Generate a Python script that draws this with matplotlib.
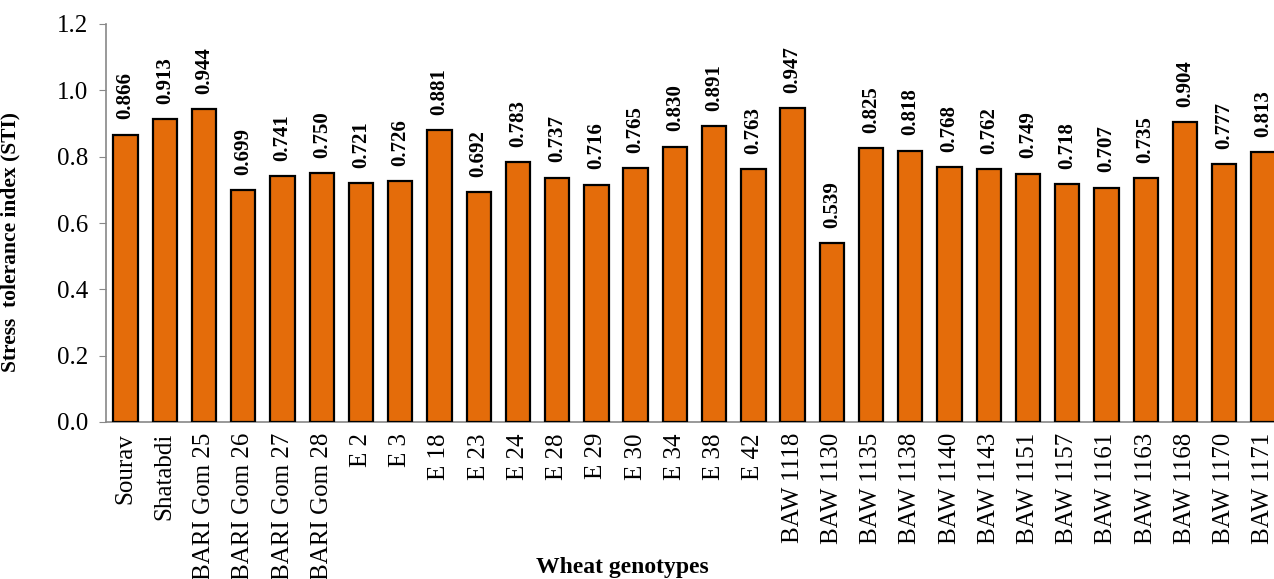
import matplotlib

matplotlib.use("Agg")
import matplotlib.pyplot as plt

genotypes = [
    "Sourav", "Shatabdi", "BARI Gom 25", "BARI Gom 26", "BARI Gom 27", "BARI Gom 28",
    "E 2", "E 3", "E 18", "E 23", "E 24", "E 28", "E 29", "E 30", "E 34", "E 38", "E 42",
    "BAW 1118", "BAW 1130", "BAW 1135", "BAW 1138", "BAW 1140", "BAW 1143", "BAW 1151",
    "BAW 1157", "BAW 1161", "BAW 1163", "BAW 1168", "BAW 1170", "BAW 1171",
]
sti = [
    0.866, 0.913, 0.944, 0.699, 0.741, 0.750,
    0.721, 0.726, 0.881, 0.692, 0.783, 0.737, 0.716, 0.765, 0.830, 0.891, 0.763,
    0.947, 0.539, 0.825, 0.818, 0.768, 0.762, 0.749,
    0.718, 0.707, 0.735, 0.904, 0.777, 0.813,
]
y_ticks = [0.0, 0.2, 0.4, 0.6, 0.8, 1.0, 1.2]

plt.rcParams["font.family"] = ["Liberation Serif", "DejaVu Serif"]

fig = plt.figure(figsize=(12.74, 5.79), dpi=100)
# axes run slightly past the right edge, as in the cropped original
ax = fig.add_axes([106 / 1274, 157 / 579, 1177 / 1274, 398 / 579])

x = range(len(genotypes))
ax.bar(x, sti, width=0.62, color="#E46C0A", edgecolor="black", linewidth=1.6, zorder=3)

for xi, v in zip(x, sti):
    ax.annotate(f"{v:.3f}", xy=(xi, v), xytext=(0, 11), textcoords="offset points",
                rotation=90, ha="center", va="bottom", fontsize=15, weight="bold")

ax.set_xlim(-0.5, len(genotypes) - 0.5)
ax.set_ylim(0, 1.2)
ax.set_yticks(y_ticks)
ax.set_yticklabels([f"{t:.1f}" for t in y_ticks], fontsize=18)
ax.set_xticks(list(x))
ax.set_xticklabels(genotypes, rotation=90, fontsize=18)
ax.tick_params(axis="x", length=0, pad=8)
ax.tick_params(axis="y", length=5, color="#888888", direction="out", pad=8)

for side in ("top", "right"):
    ax.spines[side].set_visible(False)
for side in ("left", "bottom"):
    ax.spines[side].set_color("#888888")
    ax.spines[side].set_linewidth(1.2)

ax.set_ylabel("Stress  tolerance index (STI)", fontsize=15.5, weight="bold")
ax.yaxis.set_label_coords(-0.073, 0.452)
fig.text(622 / 1274, 1 - 568 / 579, "Wheat genotypes", ha="center", va="center",
         fontsize=17, weight="bold")

fig.savefig("out.png", dpi=100)
